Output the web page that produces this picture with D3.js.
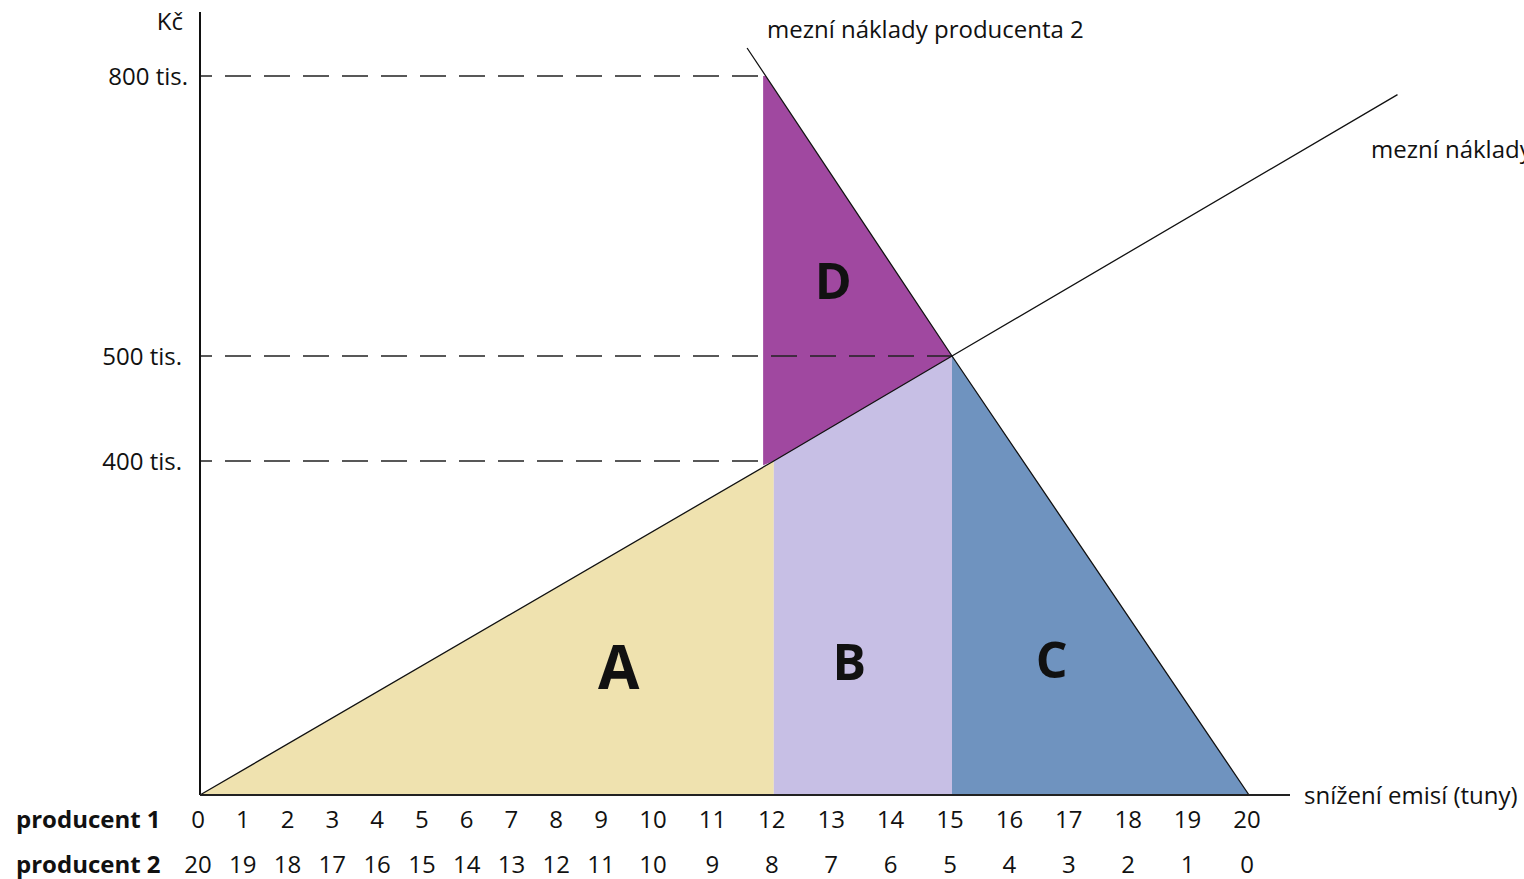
<!DOCTYPE html>
<html><head><meta charset="utf-8">
<script src="https://cdn.jsdelivr.net/npm/d3@7"></script>
<style>
html,body{margin:0;padding:0;background:#fff;overflow:hidden}
text{font-family:"Open Sans",sans-serif;fill:#111}
</style></head>
<body><svg id="c" width="1524" height="879"></svg>
<script>
// ---- data ----
const producer1Ticks = [0,1,2,3,4,5,6,7,8,9,10,11,12,13,14,15,16,17,18,19,20];
const producer2Ticks = [20,19,18,17,16,15,14,13,12,11,10,9,8,7,6,5,4,3,2,1,0];
const yTickValues = [800,500,400];
const yTickLabels = ["800 tis.","500 tis.","400 tis."];
const dashEnds = [11.82, 15, 11.82];          // x where each dashed guide ends
const mc1Line = [[0,0],[12,400],[15,500],[22.5,780]];   // mezní náklady producenta 1
const mc2Line = [[20,0],[15,500],[11.55,830]];          // mezní náklady producenta 2
const areaNames = ["A","B","C","D"];
const areaPolys = [
  [[0,0],[12,400],[12,0]],
  [[12,0],[12,400],[15,500],[15,0]],
  [[15,0],[15,500],[20,0]],
  [[11.82,395],[11.82,800],[11.86,800],[15,500],[12,400]]
];
const areaLabelPos = [9.3,13.27,16.68,13.0];
const areaColors = ["#efe2af","#c7bfe5","#6f93bf","#a048a0"];

// ---- scales ----
const x = d3.scaleLinear().domain([0,9,10,20]).range([200,603,655,1249]);
const y = d3.scaleLinear().domain([0,400,500,800]).range([795,461,356,76]);
const svg = d3.select("#c");
const line = d3.line().x(d=>x(d[0])).y(d=>y(d[1]));
const FS = 24;

// areas
svg.append("g").selectAll("path").data(areaPolys).join("path")
  .attr("d", d=>line(d)+"Z")
  .attr("fill",(d,i)=>areaColors[i]);

// dashed guides
svg.append("g").selectAll("line").data(yTickValues).join("line")
  .attr("x1", x(0)).attr("x2",(d,i)=>x(dashEnds[i]))
  .attr("y1", d=>y(d)).attr("y2", d=>y(d))
  .attr("stroke","#222").attr("stroke-width",1.5)
  .attr("stroke-dasharray","26,13").attr("stroke-dashoffset",14);

// cost lines
[mc1Line, mc2Line].forEach(l=>{
  svg.append("path").attr("d", line(l)).attr("fill","none")
    .attr("stroke","#111").attr("stroke-width",1.3);
});

// axes
svg.append("line").attr("x1",x(0)).attr("x2",x(0)).attr("y1",12).attr("y2",y(0))
  .attr("stroke","#111").attr("stroke-width",2);
svg.append("line").attr("x1",x(0)).attr("x2",1290).attr("y1",y(0)).attr("y2",y(0))
  .attr("stroke","#222").attr("stroke-width",2);

// y tick labels
svg.append("g").selectAll("text").data(yTickValues).join("text")
  .attr("x",(d,i)=> i===0?188:182).attr("y",d=>y(d)+9)
  .attr("text-anchor","end").attr("font-size",FS)
  .text((d,i)=>yTickLabels[i]);
svg.append("text").attr("x",183).attr("y",30).attr("text-anchor","end")
  .attr("font-size",FS).text("Kč");

// x tick labels
svg.append("g").selectAll("text").data(producer1Ticks).join("text")
  .attr("x",d=>x(d)-2).attr("y",828).attr("text-anchor","middle")
  .attr("font-size",FS).text(d=>d);
svg.append("g").selectAll("text").data(producer2Ticks).join("text")
  .attr("x",(d,i)=>x(producer1Ticks[i])-2).attr("y",873).attr("text-anchor","middle")
  .attr("font-size",FS).text(d=>d);
svg.append("text").attr("x",16).attr("y",828).attr("font-size",FS)
  .attr("font-weight","bold").text("producent 1");
svg.append("text").attr("x",16).attr("y",873).attr("font-size",FS)
  .attr("font-weight","bold").text("producent 2");

svg.append("text").attr("x",1304).attr("y",804).attr("font-size",FS).text("snížení emisí (tuny)");
svg.append("text").attr("x",767).attr("y",38).attr("font-size",FS).text("mezní náklady producenta 2");
svg.append("text").attr("x",1371).attr("y",158).attr("font-size",FS).text("mezní náklady producenta 1");

// area letters
const letterY = [689,680,678,299];
const letterSize = [60,50,50,50];
svg.append("g").selectAll("text").data(areaNames).join("text")
  .attr("x",(d,i)=>x(areaLabelPos[i])).attr("y",(d,i)=>letterY[i])
  .attr("text-anchor","middle").attr("font-weight","bold")
  .attr("font-size",(d,i)=>letterSize[i]).text(d=>d);
</script></body></html>
